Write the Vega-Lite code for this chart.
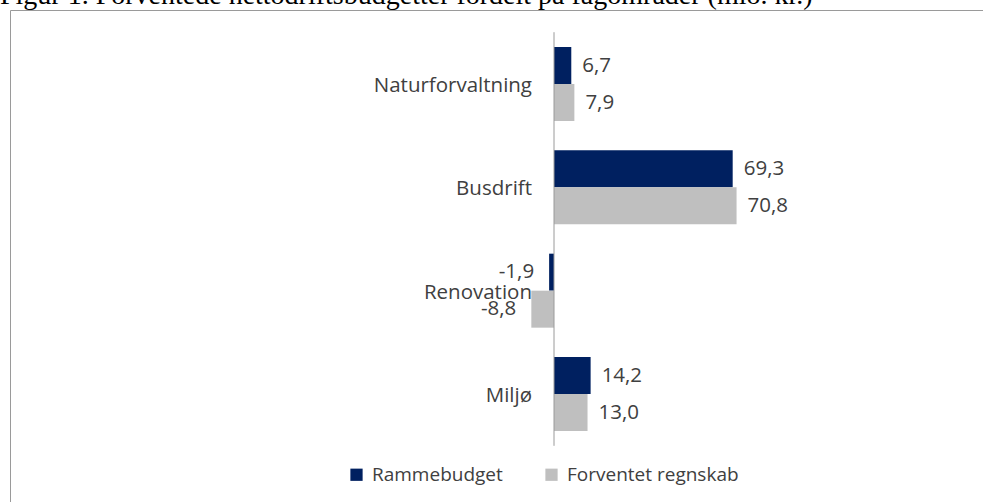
{
  "$schema": "https://vega.github.io/schema/vega-lite/v6.json",
  "autosize": {"type": "none"},
  "padding": {"left": 10, "top": 10, "right": 0, "bottom": 0},
  "width": 980,
  "height": 500,
  "background": "white",
  "title": {
    "text": "Figur 1. Forventede nettodriftsbudgetter fordelt på fagområder (mio. kr.)",
    "anchor": "start",
    "frame": "group",
    "font": "Liberation Serif",
    "fontSize": 28,
    "fontWeight": "normal",
    "color": "#000000",
    "baseline": "alphabetic",
    "offset": 0,
    "dy": 22,
    "dx": -10
  },
  "config": {
    "view": {"stroke": "#9a9a9a", "strokeWidth": 1},
    "locale": {"number": {"decimal": ",", "thousands": ".", "grouping": [3], "currency": ["", " kr."], "minus": "-"}},
    "text": {"font": "Open Sans", "fontSize": 20.5, "color": "#404040"}
  },
  "data": {
    "values": [
      {"omraade": "Naturforvaltning", "serie": "Rammebudget", "beloeb": 6.7},
      {"omraade": "Naturforvaltning", "serie": "Forventet regnskab", "beloeb": 7.9},
      {"omraade": "Busdrift", "serie": "Rammebudget", "beloeb": 69.3},
      {"omraade": "Busdrift", "serie": "Forventet regnskab", "beloeb": 70.8},
      {"omraade": "Renovation", "serie": "Rammebudget", "beloeb": -1.9},
      {"omraade": "Renovation", "serie": "Forventet regnskab", "beloeb": -8.8},
      {"omraade": "Miljø", "serie": "Rammebudget", "beloeb": 14.2},
      {"omraade": "Miljø", "serie": "Forventet regnskab", "beloeb": 13.0}
    ]
  },
  "encoding": {
    "y": {
      "field": "omraade",
      "type": "nominal",
      "scale": {"domain": ["Naturforvaltning", "Busdrift", "Renovation", "Miljø"], "paddingInner": 0.2839, "paddingOuter": 0.5613, "align": 0.319},
      "axis": null
    }
  },
  "layer": [
    {
      "mark": {"type": "bar"},
      "encoding": {
        "x": {"field": "beloeb", "type": "quantitative", "scale": {"domain": [-211, 169.1], "nice": false, "zero": false}, "axis": null},
        "yOffset": {"field": "serie", "type": "nominal", "sort": ["Rammebudget", "Forventet regnskab"], "scale": {"paddingInner": 0, "paddingOuter": 0}},
        "color": {
          "field": "serie",
          "type": "nominal",
          "sort": ["Rammebudget", "Forventet regnskab"],
          "scale": {"domain": ["Rammebudget", "Forventet regnskab"], "range": ["#002060", "#bfbfbf"]},
          "legend": {
            "title": null,
            "orient": "none",
            "legendX": 337,
            "legendY": 455,
            "direction": "horizontal",
            "symbolType": "square",
            "symbolSize": 150,
            "symbolStrokeWidth": 0,
            "labelFont": "Open Sans",
            "labelFontSize": 19,
            "labelColor": "#404040",
            "labelOffset": 6,
            "labelLimit": 0,
            "columnPadding": 39
          }
        }
      }
    },
    {
      "transform": [{"filter": "datum.beloeb > 0"}],
      "mark": {"type": "text", "align": "left", "baseline": "middle", "dx": 11},
      "encoding": {
        "x": {"field": "beloeb", "type": "quantitative"},
        "yOffset": {"field": "serie", "type": "nominal", "sort": ["Rammebudget", "Forventet regnskab"]},
        "text": {"field": "beloeb", "type": "quantitative", "format": ".1f"}
      }
    },
    {
      "transform": [{"filter": "datum.beloeb < 0"}],
      "mark": {"type": "text", "align": "right", "baseline": "middle", "dx": -15},
      "encoding": {
        "x": {"field": "beloeb", "type": "quantitative"},
        "yOffset": {"field": "serie", "type": "nominal", "sort": ["Rammebudget", "Forventet regnskab"]},
        "text": {"field": "beloeb", "type": "quantitative", "format": ".1f"}
      }
    },
    {
      "transform": [{"filter": "datum.serie === 'Rammebudget'"}],
      "mark": {"type": "text", "align": "right", "baseline": "middle", "dx": -22, "dy": 2},
      "encoding": {
        "x": {"datum": 0, "type": "quantitative"},
        "text": {"field": "omraade"}
      }
    },
    {
      "data": {"values": [{"top": "Naturforvaltning", "bund": "Miljø"}]},
      "mark": {"type": "rule", "color": "#9a9a9a", "strokeWidth": 1},
      "encoding": {
        "x": {"datum": 0, "type": "quantitative"},
        "y": {"field": "top", "type": "nominal", "bandPosition": -0.2},
        "y2": {"field": "bund", "bandPosition": 1.2}
      }
    }
  ]
}
